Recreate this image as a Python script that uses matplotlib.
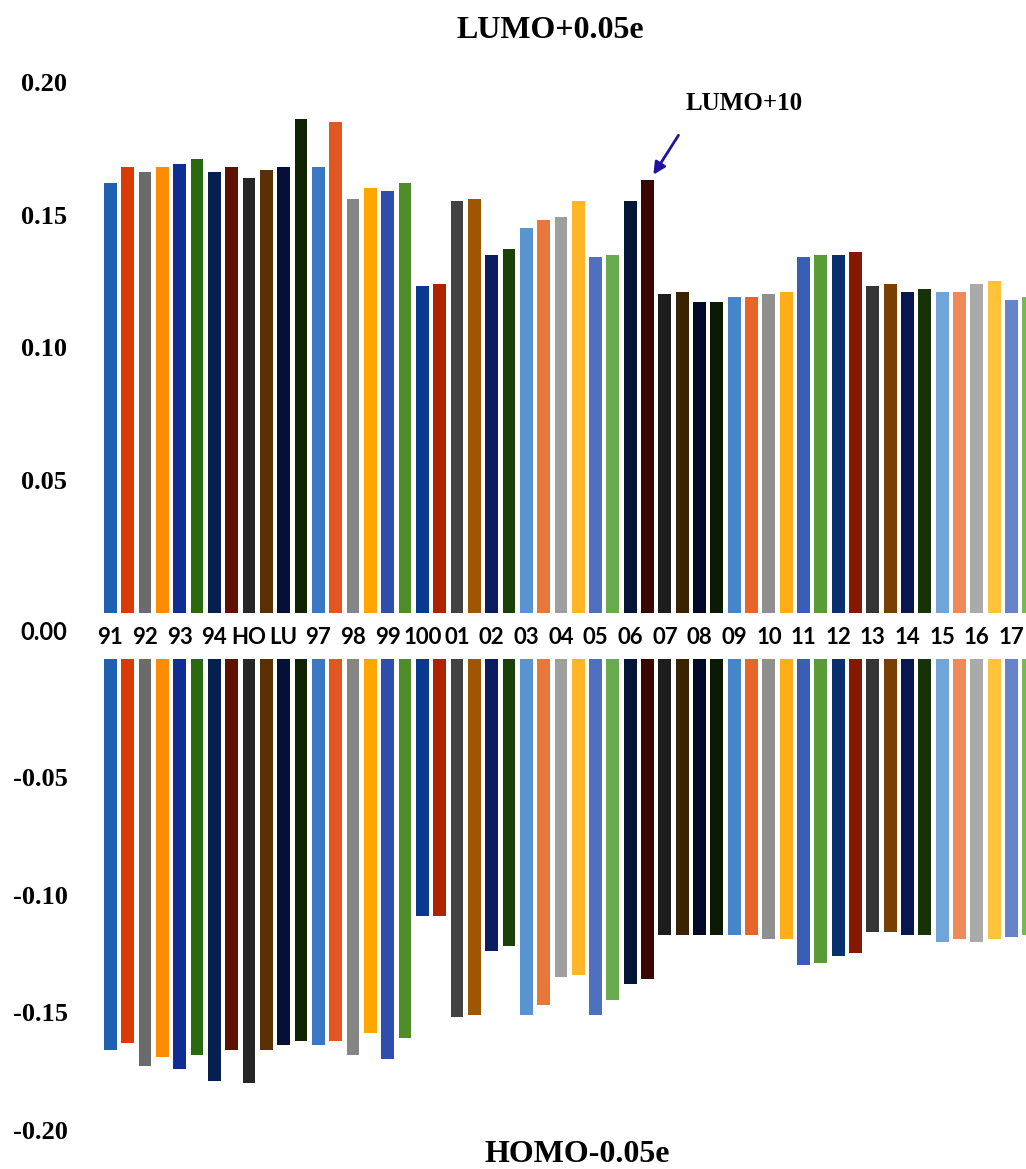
import numpy as np
import matplotlib
matplotlib.use("Agg")
import matplotlib.pyplot as plt

# orbital labels (shown on every second bar)
labels = ["91", "92", "93", "94", "HO", "LU", "97", "98", "99", "100",
          "01", "02", "03", "04", "05", "06", "07", "08", "09", "10",
          "11", "12", "13", "14", "15", "16", "17"]

# LUMO+0.05e (upper panel)
lumo = [0.162, 0.168, 0.166, 0.168, 0.169, 0.171, 0.166, 0.168, 0.164, 0.167,
        0.168, 0.186, 0.168, 0.185, 0.156, 0.160, 0.159, 0.162, 0.123, 0.124,
        0.155, 0.156, 0.135, 0.137, 0.145, 0.148, 0.149, 0.155, 0.134, 0.135,
        0.155, 0.163, 0.120, 0.121, 0.117, 0.117, 0.119, 0.119, 0.120, 0.121,
        0.134, 0.135, 0.135, 0.136, 0.123, 0.124, 0.121, 0.122, 0.121, 0.121,
        0.124, 0.125, 0.118, 0.119]

# HOMO-0.05e (lower panel)
homo = [-0.166, -0.163, -0.173, -0.169, -0.174, -0.168, -0.179, -0.166, -0.180, -0.166,
        -0.164, -0.162, -0.164, -0.162, -0.168, -0.159, -0.170, -0.161, -0.109, -0.109,
        -0.152, -0.151, -0.124, -0.122, -0.151, -0.147, -0.135, -0.134, -0.151, -0.145,
        -0.138, -0.136, -0.117, -0.117, -0.117, -0.117, -0.117, -0.117, -0.119, -0.119,
        -0.130, -0.129, -0.126, -0.125, -0.116, -0.116, -0.117, -0.117, -0.120, -0.119,
        -0.120, -0.119, -0.118, -0.117]

colors = ["#2060b0", "#d93a06", "#6b6b6b", "#ff8c00", "#0e2f91", "#2a6a0e",
          "#04204f", "#5f1200", "#262626", "#5a3000", "#060f3a", "#0f2300",
          "#3a78c3", "#e25620", "#858585", "#ffa500", "#2e4eab", "#4e8d2a",
          "#073a8f", "#ae2200", "#424242", "#9e5600", "#0b1d5e", "#1a4208",
          "#5a93d1", "#e8783a", "#9e9e9e", "#ffb526", "#4e70be", "#6aaa4e",
          "#041638", "#3a0700", "#1c1c1c", "#3b2200", "#030a27", "#0b1a04",
          "#4585ca", "#e66528", "#8f8f8f", "#ffae18", "#3a5db5", "#5b9b37",
          "#08306e", "#861700", "#353535", "#7a4000", "#071750", "#153306",
          "#6fa5d8", "#ee8a5a", "#aaaaaa", "#ffc23a", "#6585c8", "#7ab55a"]

x = np.arange(len(lumo))
W, H = 1026, 1169
fig = plt.figure(figsize=(W / 100, H / 100), dpi=100)

serif = "Liberation Serif"
left, right = 100 / W, 1.0
ax_top = fig.add_axes([left, 1 - 613 / H, right - left, (613 - 82) / H])
ax_bot = fig.add_axes([left, 1 - 1130 / H, right - left, (1130 - 659) / H])

ax_top.bar(x, lumo, width=0.74, color=colors)
ax_bot.bar(x, homo, width=0.74, color=colors)

for ax in (ax_top, ax_bot):
    ax.set_xlim(-0.6, 52.84)
    for s in ax.spines.values():
        s.set_visible(False)
    ax.tick_params(length=0)

ax_top.set_ylim(0, 0.20)
ax_top.set_yticks([0.05, 0.10, 0.15, 0.20])
ax_top.set_yticklabels(["0.05", "0.10", "0.15", "0.20"], fontfamily=serif,
                       fontweight="bold", fontsize=19)
ax_top.tick_params(axis="y", pad=24)
ax_top.set_xticks(x[::2])
ax_top.set_xticklabels(labels, fontfamily="Lato", fontweight="bold", fontsize=16)
ax_top.tick_params(axis="x", pad=10)

ax_bot.set_ylim(-0.20, 0)
ax_bot.set_yticks([-0.05, -0.10, -0.15, -0.20])
ax_bot.set_yticklabels(["-0.05", "-0.10", "-0.15", "-0.20"], fontfamily=serif,
                       fontweight="bold", fontsize=19)
ax_bot.tick_params(axis="y", pad=23)
ax_bot.set_xticks([])

fig.text(67 / W, 1 - 632 / H, "0.00", ha="right", va="center",
         fontfamily="Lato", fontweight="bold", fontsize=17)

fig.text(550 / W, 1 - 30 / H, "LUMO+0.05e", ha="center", va="center",
         fontfamily=serif, fontweight="bold", fontsize=23)
fig.text(577 / W, 1 - 1155 / H, "HOMO-0.05e", ha="center", va="center",
         fontfamily=serif, fontweight="bold", fontsize=23)

ax_top.annotate("", xy=(31.25, 0.1642), xytext=(32.87, 0.1808),
                arrowprops=dict(arrowstyle="-|>", color="#1f14a0", lw=2,
                                mutation_scale=18))
ax_top.text(36.6, 0.192, "LUMO+10", ha="center", va="center",
            fontfamily=serif, fontweight="bold", fontsize=18)

fig.savefig("out.png", dpi=100, facecolor="white")
